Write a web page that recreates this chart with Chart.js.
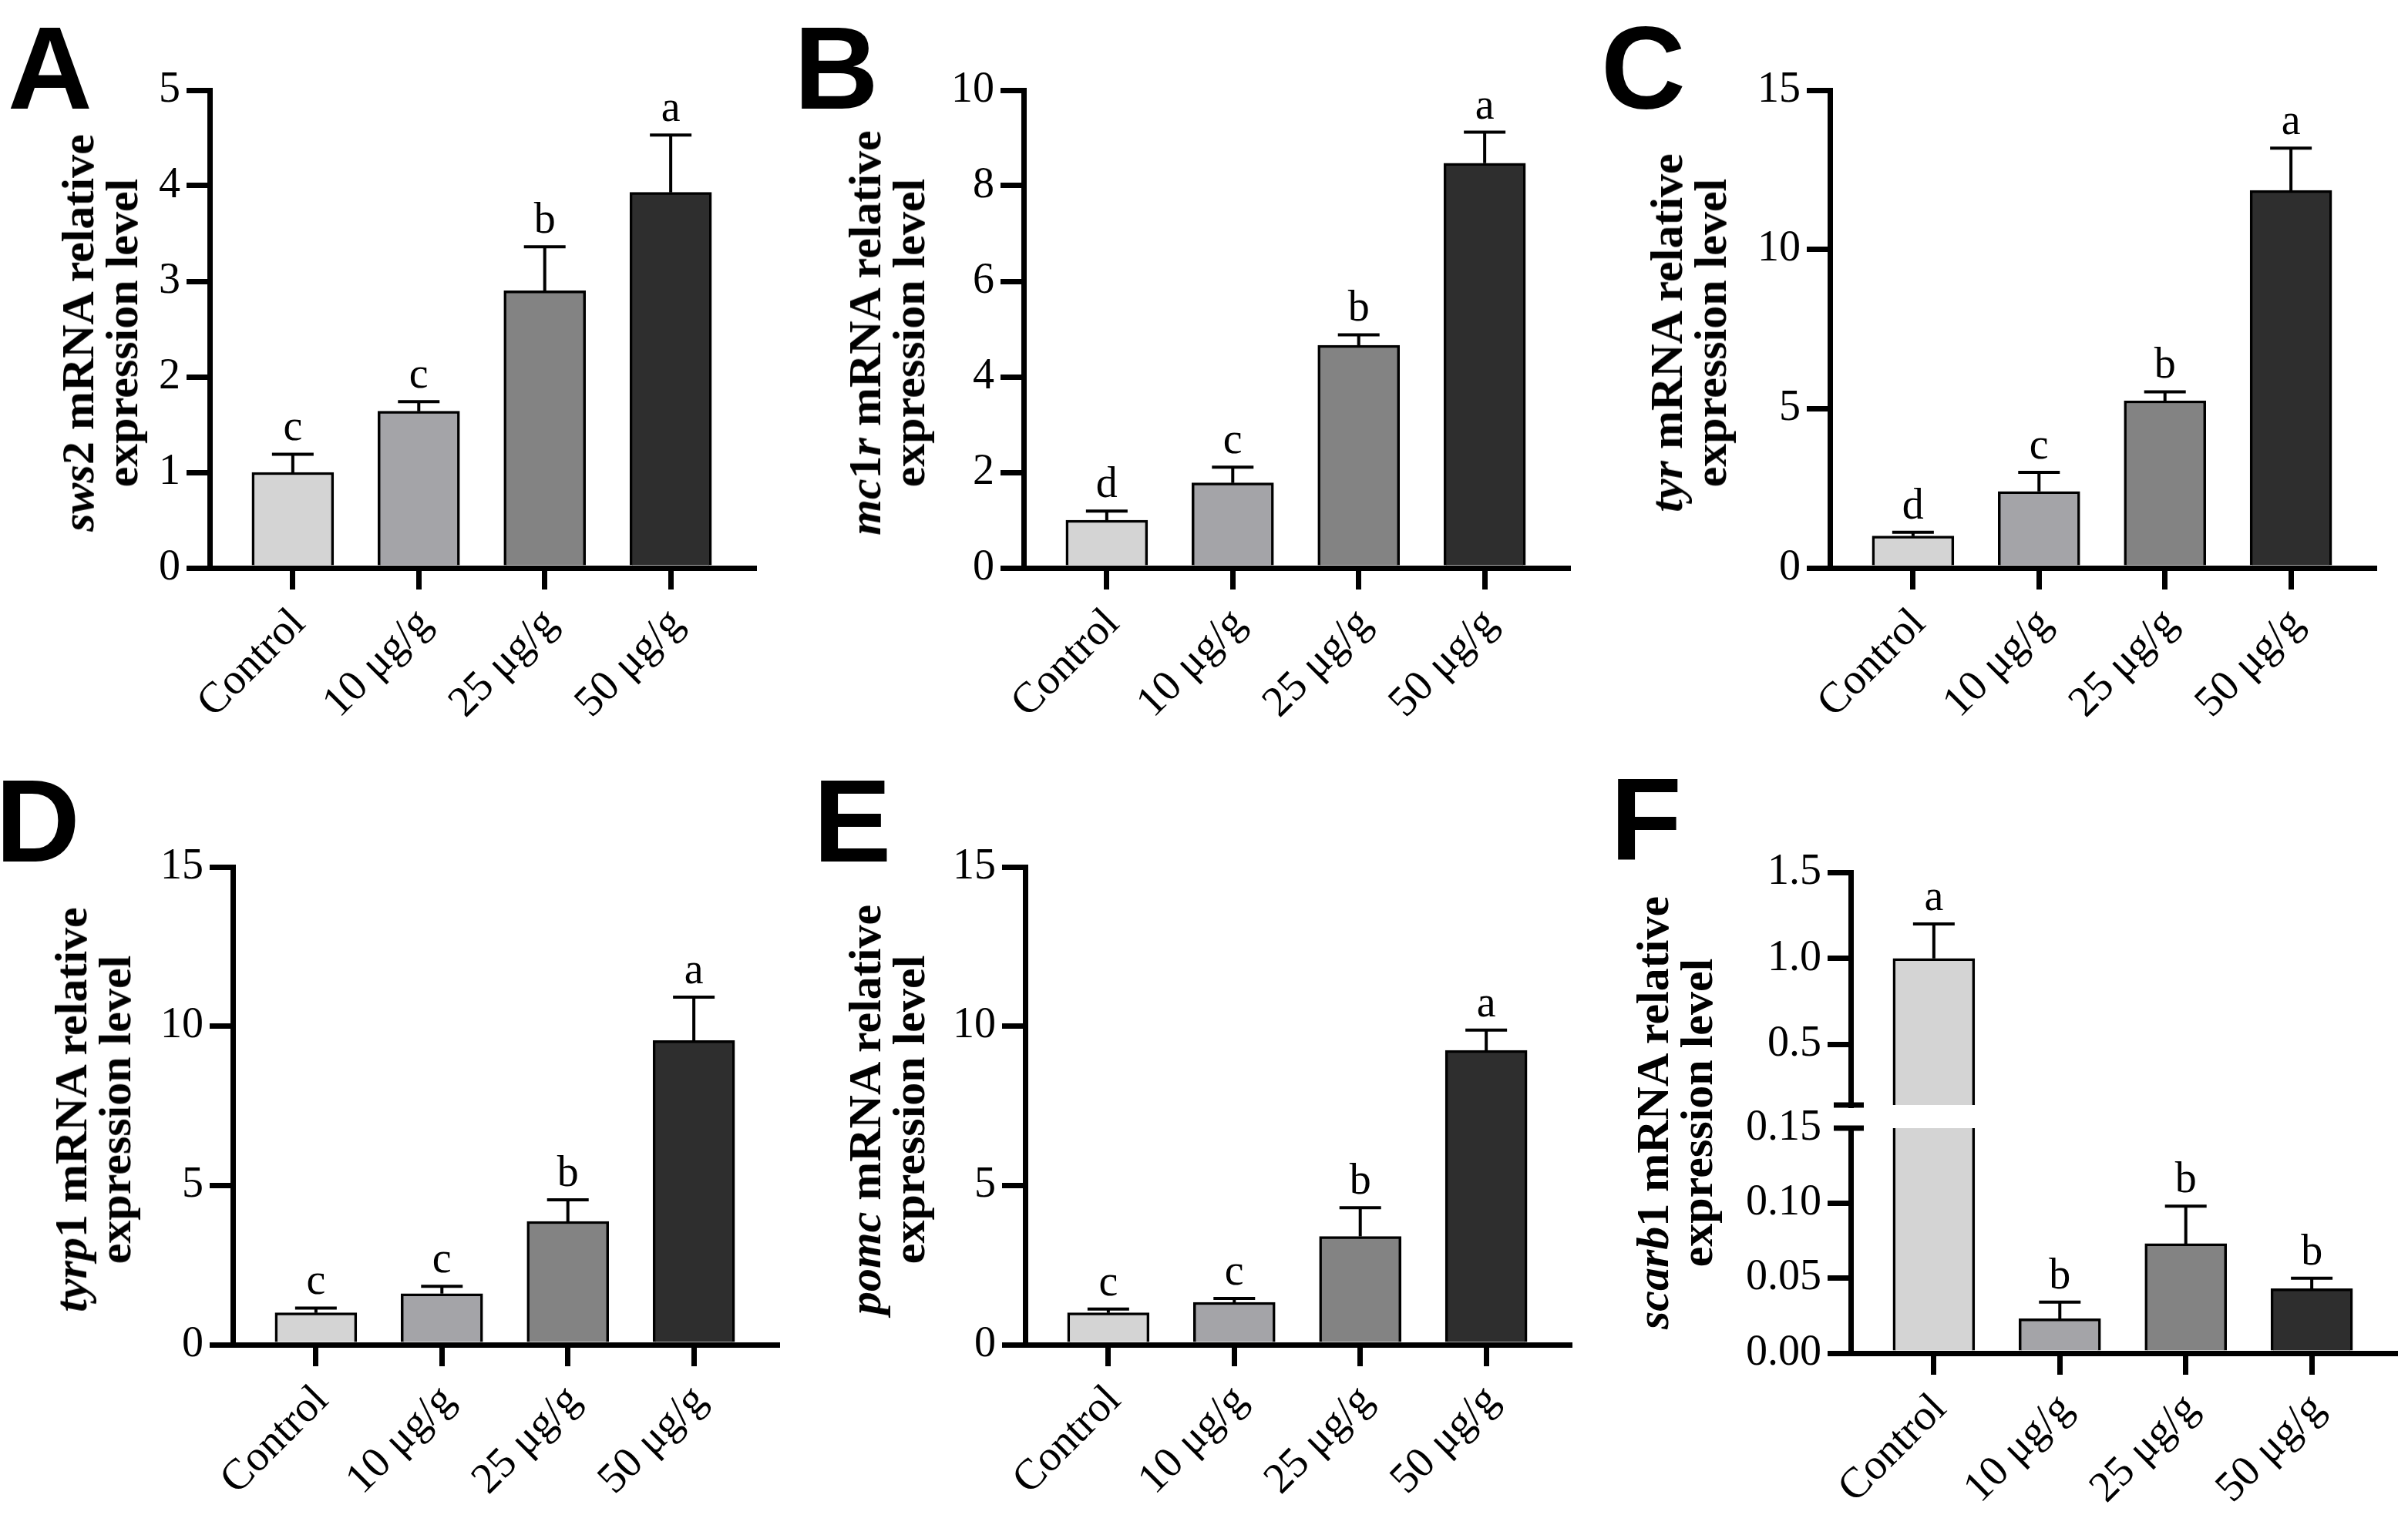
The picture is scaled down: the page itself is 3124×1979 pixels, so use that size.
<!DOCTYPE html>
<html>
<head>
<meta charset="utf-8">
<script src="https://cdn.jsdelivr.net/npm/chart.js@4.4.1/dist/chart.umd.min.js"></script>
<style>
  body { margin: 0; width: 3124px; height: 1979px; overflow: hidden; background: #fff; position: relative; }
  canvas { position: absolute; }
  .tag { position: absolute; font: bold 152px 'Liberation Sans', Arial, sans-serif; line-height: 152px; color: #000; z-index: 2; }
  .ytitle { position: absolute; font: bold 60px 'Liberation Serif', 'Times New Roman', serif; line-height: 57px;
            text-align: center; white-space: nowrap; color: #000; transform: translate(-50%, -50%) rotate(-90deg); }
</style>
</head>
<body>
<script>
// groups on the x axis
var groups = ["Control", "10 μg/g", "25 μg/g", "50 μg/g"];

// A - sws2
var sws2Mean = [1.0, 1.64, 2.9, 3.93];
var sws2Err = [0.19, 0.1, 0.46, 0.6];
var sws2Sig = ["c", "c", "b", "a"];
// B - mc1r
var mc1rMean = [1.0, 1.78, 4.66, 8.47];
var mc1rErr = [0.19, 0.33, 0.22, 0.65];
var mc1rSig = ["d", "c", "b", "a"];
// C - tyr
var tyrMean = [1.0, 2.4, 5.25, 11.85];
var tyrErr = [0.12, 0.6, 0.28, 1.33];
var tyrSig = ["d", "c", "b", "a"];
// D - tyrp1
var tyrp1Mean = [1.0, 1.6, 3.87, 9.55];
var tyrp1Err = [0.15, 0.23, 0.68, 1.36];
var tyrp1Sig = ["c", "c", "b", "a"];
// E - pomc
var pomcMean = [1.0, 1.33, 3.4, 9.24];
var pomcErr = [0.12, 0.12, 0.9, 0.64];
var pomcSig = ["c", "c", "b", "a"];
// F - scarb1 (broken axis)
var scarb1Mean = [1.0, 0.023, 0.073, 0.043];
var scarb1Err = [0.2, 0.011, 0.025, 0.007];
var scarb1Sig = ["a", "b", "b", "b"];

// tick values
var ticks5 = [0, 1, 2, 3, 4, 5];
var ticks10 = [0, 2, 4, 6, 8, 10];
var ticks15 = [0, 5, 10, 15];
var ticksFTop = [0.5, 1.0, 1.5];
var ticksFBottom = [0, 0.05, 0.10, 0.15];

var barColors = ["#d4d4d4", "#a4a4a8", "#838383", "#2e2e2e"];
var serif = "'Liberation Serif', 'Times New Roman', serif";

// error bars + significance letters
Chart.register({
    id: "errMarks",
    afterDatasetsDraw: function (chart, args, o) {
        if (!o || !o.err) return;
        var ctx = chart.ctx, xs = chart.scales.x, ys = chart.scales.y;
        var pts = chart.data.datasets[0].data;
        ctx.save();
        ctx.strokeStyle = "#000";
        ctx.fillStyle = "#000";
        ctx.lineWidth = 4;
        ctx.font = "56px " + serif;
        ctx.textAlign = "center";
        ctx.textBaseline = "alphabetic";
        pts.forEach(function (p, i) {
            var top = p.y + o.err[i];
            if (p.y < ys.min || top > ys.max) return;
            var x = xs.getPixelForValue(p.x);
            var yb = ys.getPixelForValue(p.y), yt = ys.getPixelForValue(top);
            ctx.beginPath();
            ctx.moveTo(x, yb); ctx.lineTo(x, yt);
            ctx.moveTo(x - 27, yt); ctx.lineTo(x + 27, yt);
            ctx.stroke();
            ctx.fillText(o.sig[i], x, yt - 18);
        });
        ctx.restore();
    }
});

// axis break marks for panel F
Chart.register({
    id: "axisBreak",
    afterDraw: function (chart, args, o) {
        if (!o || !o.at) return;
        var ctx = chart.ctx, a = chart.chartArea;
        var y = o.at === "top" ? a.top : a.bottom;
        ctx.save();
        ctx.strokeStyle = "#000";
        ctx.lineWidth = 7;
        ctx.beginPath();
        ctx.moveTo(a.left - 22, y); ctx.lineTo(a.left + 17, y);
        ctx.stroke();
        ctx.restore();
    }
});

function addCanvas(left, top, w, h) {
    var c = document.createElement("canvas");
    c.width = w; c.height = h;
    c.style.left = left + "px"; c.style.top = top + "px";
    c.style.width = w + "px"; c.style.height = h + "px";
    document.body.appendChild(c);
    return c;
}

function addTag(txt, left, top) {
    var d = document.createElement("div");
    d.className = "tag";
    d.textContent = txt;
    d.style.left = left + "px"; d.style.top = top + "px";
    document.body.appendChild(d);
}

function addTitle(html, cx, cy) {
    var d = document.createElement("div");
    d.className = "ytitle";
    d.innerHTML = html + "<br>expression level";
    d.style.left = cx + "px"; d.style.top = cy + "px";
    document.body.appendChild(d);
}

// p: axisX, top, bottom (pixel), mean, err, sig, yMin, yMax, yTicks, fmt, showX, breakAt, padTop, padBottom
function makeChart(p) {
    var padTop = p.padTop, padBottom = p.padBottom || 0;
    var xH = p.showX ? 230 : 0;
    var h = padTop + (p.bottom - p.top) + xH + padBottom;
    var w = 150 + 706 + 12;
    var cv = addCanvas(p.axisX - 150, p.top - padTop, w, h);
    var axisGrid = { drawOnChartArea: false, offset: false, color: "#000", lineWidth: 7 };
    return new Chart(cv.getContext("2d"), {
        type: "bar",
        data: {
            datasets: [{
                data: p.mean.map(function (v, i) { return { x: i, y: v }; }),
                backgroundColor: barColors,
                borderColor: "#000",
                borderWidth: 3.5,
                borderSkipped: "start",
                barThickness: 106,
                clip: 0
            }]
        },
        options: {
            responsive: false,
            animation: false,
            events: [],
            layout: { padding: { top: padTop, right: 12, bottom: padBottom, left: 0 } },
            plugins: {
                legend: { display: false },
                tooltip: { enabled: false },
                errMarks: { err: p.err, sig: p.sig },
                axisBreak: { at: p.breakAt || null }
            },
            scales: {
                x: {
                    type: "linear",
                    min: -0.66, max: 3.66,
                    offset: false,
                    display: p.showX,
                    afterBuildTicks: function (s) { s.ticks = groups.map(function (g, i) { return { value: i }; }); },
                    afterFit: function (s) { s.height = xH; s.paddingLeft = 0; s.paddingRight = 0; },
                    border: { color: "#000", width: 7 },
                    grid: Object.assign({ tickLength: 28 }, axisGrid),
                    ticks: {
                        autoSkip: false, maxRotation: 45, minRotation: 45, padding: 12, labelOffset: 8,
                        color: "#000", font: { family: serif, size: 56 },
                        callback: function (v) { return groups[v]; }
                    }
                },
                y: {
                    min: p.yMin, max: p.yMax,
                    afterBuildTicks: function (s) { s.ticks = p.yTicks.map(function (v) { return { value: v }; }); },
                    afterFit: function (s) { s.width = 150; s.paddingTop = 0; s.paddingBottom = 0; },
                    border: { color: "#000", width: 7 },
                    grid: Object.assign({
                        tickLength: 30,
                        tickColor: function (c) { return (p.breakAt === "top" && c.tick && c.tick.value === p.yMax) ? "rgba(0,0,0,0)" : "#000"; }
                    }, axisGrid),
                    ticks: {
                        autoSkip: false, padding: 8, color: "#000",
                        font: { family: serif, size: 56 },
                        callback: p.fmt || function (v) { return String(v); }
                    }
                }
            }
        }
    });
}

// top row
makeChart({ axisX: 272, top: 117, bottom: 737, padTop: 100, showX: true, mean: sws2Mean, err: sws2Err, sig: sws2Sig, yMin: 0, yMax: 5, yTicks: ticks5 });
makeChart({ axisX: 1328, top: 117, bottom: 737, padTop: 100, showX: true, mean: mc1rMean, err: mc1rErr, sig: mc1rSig, yMin: 0, yMax: 10, yTicks: ticks10 });
makeChart({ axisX: 2374, top: 117, bottom: 737, padTop: 100, showX: true, mean: tyrMean, err: tyrErr, sig: tyrSig, yMin: 0, yMax: 15, yTicks: ticks15 });
// bottom row
makeChart({ axisX: 302, top: 1125, bottom: 1745, padTop: 100, showX: true, mean: tyrp1Mean, err: tyrp1Err, sig: tyrp1Sig, yMin: 0, yMax: 15, yTicks: ticks15 });
makeChart({ axisX: 1330, top: 1125, bottom: 1745, padTop: 100, showX: true, mean: pomcMean, err: pomcErr, sig: pomcSig, yMin: 0, yMax: 15, yTicks: ticks15 });
// F, two segments
makeChart({ axisX: 2401, top: 1132, bottom: 1434, padTop: 100, padBottom: 10, showX: false, breakAt: "bottom",
    mean: scarb1Mean, err: scarb1Err, sig: scarb1Sig, yMin: 0.15, yMax: 1.5, yTicks: ticksFTop,
    fmt: function (v) { return v.toFixed(1); } });
makeChart({ axisX: 2401, top: 1464, bottom: 1756, padTop: 40, showX: true, breakAt: "top",
    mean: scarb1Mean, err: scarb1Err, sig: scarb1Sig, yMin: 0, yMax: 0.15, yTicks: ticksFBottom,
    fmt: function (v) { return v.toFixed(2); } });

// panel letters
addTag("A", 10, 12);
addTag("B", 1030, 12);
addTag("C", 2077, 12);
addTag("D", -6, 989);
addTag("E", 1055, 989);
addTag("F", 2089, 986);

// y axis titles
addTitle("<i>sws</i>2 mRNA relative", 130, 432);
addTitle("<i>mc</i>1<i>r</i> mRNA relative", 1151, 432);
addTitle("<i>tyr</i> mRNA relative", 2191, 432);
addTitle("<i>tyrp</i>1 mRNA relative", 121, 1440);
addTitle("<i>pomc</i> mRNA relative", 1151, 1440);
addTitle("<i>scarb</i>1 mRNA relative", 2173, 1444);
</script>
</body>
</html>
